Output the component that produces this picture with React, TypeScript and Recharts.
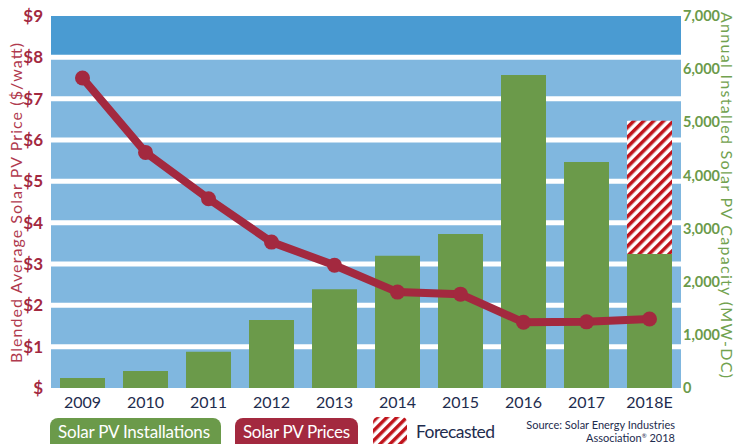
import React from 'react';
import { ComposedChart, Bar, Line, XAxis, YAxis, CartesianGrid } from 'recharts';

const years = ['2009', '2010', '2011', '2012', '2013', '2014', '2015', '2016', '2017', '2018E'];
const installations = [190, 320, 680, 1280, 1860, 2490, 2900, 5890, 4255, 2520];
const forecasted = [0, 0, 0, 0, 0, 0, 0, 0, 0, 2510];
const prices = [7.5, 5.7, 4.58, 3.53, 2.97, 2.32, 2.27, 1.59, 1.6, 1.67];
const priceTicks = [0, 1, 2, 3, 4, 5, 6, 7, 8, 9];
const capacityTicks = [0, 1000, 2000, 3000, 4000, 5000, 6000, 7000];
const gridValues = [1, 2, 3, 4, 5, 6, 7, 8];

const data = years.map((y, i) => ({
  year: y,
  installations: installations[i],
  forecasted: forecasted[i],
  price: prices[i],
}));

const FONT = 'Lato, "Open Sans", sans-serif';
const RED = '#a3293f';
const GREEN = '#6b9a4a';
const NAVY = '#1e2c4e';
const HATCH = '#c0141c';

const W = 736;
const H = 444;

const HatchDefs = ({ id }: { id: string }) => (
  <defs>
    <pattern id={id} width="7" height="7" patternUnits="userSpaceOnUse" patternTransform="rotate(45)">
      <rect x="0" y="0" width="7" height="7" fill="#ffffff" />
      <rect x="0" y="0" width="3.5" height="7" fill={HATCH} />
    </pattern>
  </defs>
);

export default function App() {
  return (
    <div style={{ position: 'absolute', left: 0, top: 0, width: W, height: H, background: '#fff' }}>
      <ComposedChart
        width={W}
        height={H}
        data={data}
        margin={{ top: 16, right: 0, bottom: 30, left: 0 }}
      >
        <HatchDefs id="hatchBar" />
        <CartesianGrid
          yAxisId="left"
          vertical={false}
          stroke="none"
          horizontalFill={['#4a9bd2', '#80b7df', '#80b7df', '#80b7df', '#80b7df', '#80b7df', '#80b7df', '#80b7df', '#80b7df']}
          fillOpacity={1}
        />
        <CartesianGrid
          yAxisId="left"
          vertical={false}
          stroke="#ffffff"
          strokeWidth={5}
          horizontalValues={gridValues}
        />
        <XAxis
          dataKey="year"
          axisLine={false}
          tickLine={false}
          tickSize={0}
          tickMargin={9}
          height={26}
          tick={{ fill: NAVY, fontSize: 16, fontFamily: FONT }}
          interval={0}
        />
        <YAxis
          yAxisId="left"
          domain={[0, 9]}
          ticks={priceTicks}
          width={51}
          axisLine={false}
          tickLine={false}
          tickSize={0}
          tickMargin={8}
          tick={{ fill: RED, fontSize: 17, fontWeight: 700, fontFamily: FONT }}
          tickFormatter={(v: number) => (v === 0 ? '$' : `$${v}`)}
        />
        <YAxis
          yAxisId="right"
          orientation="right"
          domain={[0, 7000]}
          ticks={capacityTicks}
          width={55}
          axisLine={false}
          tickLine={false}
          tickSize={0}
          tickMargin={2}
          tick={{ fill: GREEN, fontSize: 14.5, fontWeight: 700, fontFamily: FONT }}
          tickFormatter={(v: number) => v.toLocaleString('en-US')}
        />
        <Bar yAxisId="right" dataKey="installations" stackId="a" fill={GREEN} barSize={45} isAnimationActive={false} />
        <Bar yAxisId="right" dataKey="forecasted" stackId="a" fill="url(#hatchBar)" barSize={45} isAnimationActive={false} />
        <Line
          yAxisId="left"
          type="linear"
          dataKey="price"
          stroke={RED}
          strokeWidth={8}
          dot={{ r: 7.5, fill: RED, stroke: 'none' }}
          activeDot={false}
          isAnimationActive={false}
        />
      </ComposedChart>
      <svg
        width={W}
        height={H}
        style={{ position: 'absolute', left: 0, top: 0, pointerEvents: 'none' }}
      >
        <HatchDefs id="hatchLegend" />
        <text
          x={15}
          y={203}
          transform="rotate(-90 15 203)"
          textAnchor="middle"
          dominantBaseline="central"
          fill="#b03a4e"
          fontSize={16}
          fontFamily={FONT}
          textLength={320}
        >
          Blended Average Solar PV Price ($/watt)
        </text>
        <text
          x={727}
          y={195}
          transform="rotate(90 727 195)"
          textAnchor="middle"
          dominantBaseline="central"
          fill="#72a24f"
          fontSize={16}
          fontFamily={FONT}
          textLength={366}
        >
          Annual Installed Solar PV Capacity (MW-DC)
        </text>

        <rect x={50} y={418} width={171} height={34} rx={8} fill={GREEN} />
        <text x={58} y={438} fill="#ffffff" fontSize={17} fontFamily={FONT} textLength={152}>
          Solar PV Installations
        </text>

        <rect x={235} y={418} width={123} height={34} rx={8} fill={RED} />
        <text x={243} y={438} fill="#ffffff" fontSize={17} fontFamily={FONT} textLength={107}>
          Solar PV Prices
        </text>

        <rect x={373} y={417} width={34} height={34} rx={5} fill="url(#hatchLegend)" />
        <text x={416} y={438} fill={NAVY} fontSize={17.5} fontFamily={FONT} textLength={79}>
          Forecasted
        </text>

        <text x={675} y={429} textAnchor="end" fill={NAVY} fontSize={11} fontFamily={FONT}>
          Source: Solar Energy Industries
        </text>
        <text x={675} y={442} textAnchor="end" fill={NAVY} fontSize={11} fontFamily={FONT}>
          Association<tspan fontSize={6} dy={-4}>®</tspan><tspan dy={4}> 2018</tspan>
        </text>
      </svg>
    </div>
  );
}
